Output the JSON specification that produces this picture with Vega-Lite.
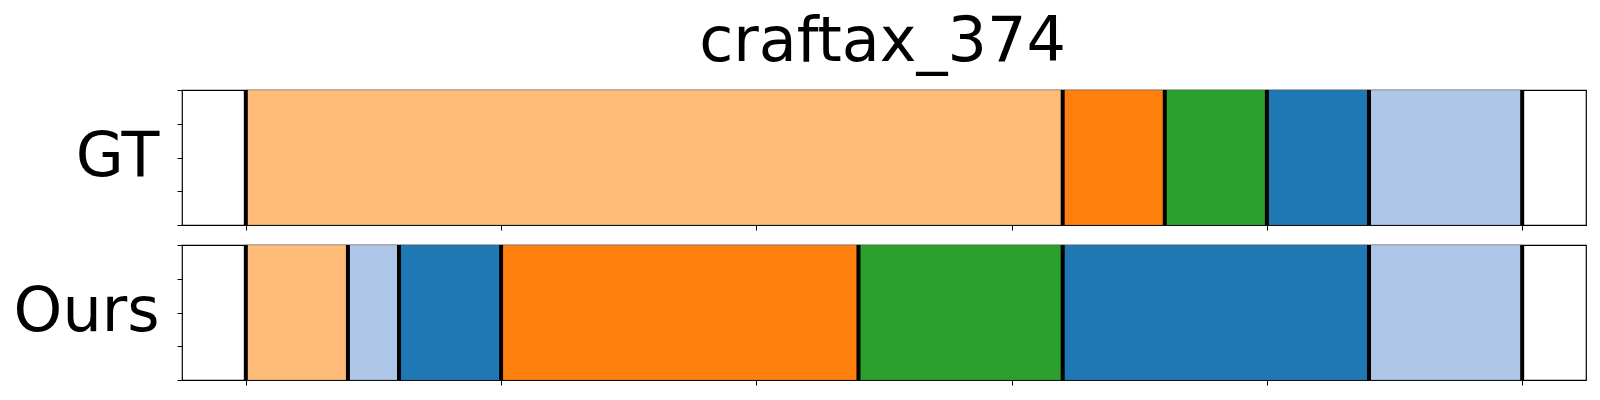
{
  "$schema": "https://vega.github.io/schema/vega-lite/v6.json",
  "padding": {"left": 12, "top": 11, "right": 0, "bottom": 0},
  "background": "white",
  "title": {"text": "craftax_374", "fontSize": 62, "font": "DejaVu Sans", "fontWeight": "normal", "color": "black", "anchor": "middle", "baseline": "alphabetic", "offset": -36, "dx": 83},
  "datasets": {
    "segments": [
      {"panel": "GT", "start": 0, "end": 16, "cls": "c1"},
      {"panel": "GT", "start": 16, "end": 18, "cls": "c2"},
      {"panel": "GT", "start": 18, "end": 20, "cls": "c3"},
      {"panel": "GT", "start": 20, "end": 22, "cls": "c4"},
      {"panel": "GT", "start": 22, "end": 25, "cls": "c5"},
      {"panel": "Ours", "start": 0, "end": 2, "cls": "c1"},
      {"panel": "Ours", "start": 2, "end": 3, "cls": "c5"},
      {"panel": "Ours", "start": 3, "end": 5, "cls": "c4"},
      {"panel": "Ours", "start": 5, "end": 12, "cls": "c2"},
      {"panel": "Ours", "start": 12, "end": 16, "cls": "c3"},
      {"panel": "Ours", "start": 16, "end": 22, "cls": "c4"},
      {"panel": "Ours", "start": 22, "end": 25, "cls": "c5"}
    ],
    "bounds": [
      {"panel": "GT", "pos": 0}, {"panel": "GT", "pos": 16}, {"panel": "GT", "pos": 18},
      {"panel": "GT", "pos": 20}, {"panel": "GT", "pos": 22}, {"panel": "GT", "pos": 25},
      {"panel": "Ours", "pos": 0}, {"panel": "Ours", "pos": 2}, {"panel": "Ours", "pos": 3},
      {"panel": "Ours", "pos": 5}, {"panel": "Ours", "pos": 12}, {"panel": "Ours", "pos": 16},
      {"panel": "Ours", "pos": 22}, {"panel": "Ours", "pos": 25}
    ]
  },
  "spacing": 10,
  "vconcat": [
    {
      "width": 1404,
      "height": 135,
      "layer": [
        {
          "data": {"name": "segments"},
          "transform": [{"filter": "datum.panel === 'GT'"}],
          "mark": {"type": "rect", "stroke": "#555555", "strokeOpacity": 0.35, "strokeWidth": 1},
          "encoding": {
            "x": {"field": "start", "type": "quantitative", "scale": {"domain": [-1.25, 26.25], "nice": false, "zero": false}, "axis": {"values": [0, 5, 10, 15, 20, 25], "labels": false, "title": null}},
            "x2": {"field": "end"},
            "y": {"datum": 0, "type": "quantitative", "scale": {"domain": [0, 1], "nice": false}, "axis": {"values": [0, 0.25, 0.5, 0.75, 1], "labels": false, "title": "GT"}},
            "y2": {"datum": 1},
            "color": {"field": "cls", "type": "nominal", "scale": {"domain": ["c1", "c2", "c3", "c4", "c5"], "range": ["#ffbb78", "#ff7f0e", "#2ca02c", "#1f77b4", "#aec7e8"]}, "legend": null}
          }
        },
        {
          "data": {"name": "bounds"},
          "transform": [{"filter": "datum.panel === 'GT'"}],
          "mark": {"type": "rule", "color": "black", "strokeWidth": 4},
          "encoding": {"x": {"field": "pos", "type": "quantitative"}}
        }
      ]
    },
    {
      "width": 1404,
      "height": 135,
      "layer": [
        {
          "data": {"name": "segments"},
          "transform": [{"filter": "datum.panel === 'Ours'"}],
          "mark": {"type": "rect", "stroke": "#555555", "strokeOpacity": 0.35, "strokeWidth": 1},
          "encoding": {
            "x": {"field": "start", "type": "quantitative", "scale": {"domain": [-1.25, 26.25], "nice": false, "zero": false}, "axis": {"values": [0, 5, 10, 15, 20, 25], "labels": false, "title": null}},
            "x2": {"field": "end"},
            "y": {"datum": 0, "type": "quantitative", "scale": {"domain": [0, 1], "nice": false}, "axis": {"values": [0, 0.25, 0.5, 0.75, 1], "labels": false, "title": "Ours"}},
            "y2": {"datum": 1},
            "color": {"field": "cls", "type": "nominal", "scale": {"domain": ["c1", "c2", "c3", "c4", "c5"], "range": ["#ffbb78", "#ff7f0e", "#2ca02c", "#1f77b4", "#aec7e8"]}, "legend": null}
          }
        },
        {
          "data": {"name": "bounds"},
          "transform": [{"filter": "datum.panel === 'Ours'"}],
          "mark": {"type": "rule", "color": "black", "strokeWidth": 4},
          "encoding": {"x": {"field": "pos", "type": "quantitative"}}
        }
      ]
    }
  ],
  "config": {
    "view": {"stroke": "black", "strokeWidth": 1.2},
    "axis": {
      "grid": false,
      "domain": false,
      "ticks": true,
      "tickSize": 5,
      "tickColor": "black",
      "tickWidth": 1,
      "labels": false
    },
    "axisY": {
      "titleAngle": 0,
      "titleAlign": "right",
      "titleBaseline": "alphabetic",
      "titleX": -23,
      "titleY": 85,
      "titleFont": "DejaVu Sans",
      "titleFontSize": 62,
      "titleFontWeight": "normal",
      "titleColor": "black"
    }
  }
}
